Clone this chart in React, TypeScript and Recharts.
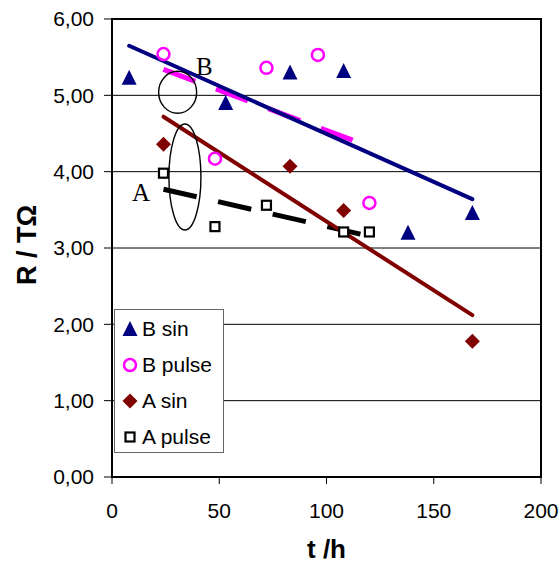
import React from 'react'
import {
  ComposedChart,
  Scatter,
  Line,
  XAxis,
  YAxis,
  CartesianGrid,
  ReferenceArea,
  ReferenceDot,
  Legend,
  Label,
} from 'recharts'

const FONT = 'Arial, "Liberation Sans", Helvetica, sans-serif'
const SERIF = '"Times New Roman", "Liberation Serif", serif'

const xTicks = [0, 50, 100, 150, 200]
const yTicks = [0, 1, 2, 3, 4, 5, 6]

// measured points (t in h, R in TΩ)
const bSinT = [8, 53, 83, 108, 138, 168]
const bSinR = [5.23, 4.9, 5.3, 5.32, 3.2, 3.46]
const bPulseT = [24, 48, 72, 96, 120]
const bPulseR = [5.54, 4.17, 5.36, 5.53, 3.59]
const aSinT = [24, 83, 108, 168]
const aSinR = [4.36, 4.07, 3.49, 1.78]
const aPulseT = [24, 48, 72, 108, 120]
const aPulseR = [3.98, 3.28, 3.56, 3.21, 3.21]

// linear trend lines (end points)
const bSinFitT = [8, 168]
const bSinFitR = [5.65, 3.64]
const bPulseFitT = [24, 120]
const bPulseFitR = [5.34, 4.33]
const aSinFitT = [24, 168]
const aSinFitR = [4.72, 2.12]
const aPulseFitT = [24, 120]
const aPulseFitR = [3.77, 3.155]

const legendNames = ['B sin', 'B pulse', 'A sin', 'A pulse']

const toPoints = (t: number[], r: number[]) => t.map((v, i) => ({ t: v, r: r[i] }))

const Triangle = ({ cx, cy }: any) => (
  <path d={`M${cx},${cy - 8} L${cx + 7.5},${cy + 7} L${cx - 7.5},${cy + 7} Z`} fill="#000080" />
)
const Circle = ({ cx, cy }: any) => (
  <circle cx={cx} cy={cy} r={6} fill="none" stroke="#FF00FF" strokeWidth={2.5} />
)
const Diamond = ({ cx, cy }: any) => (
  <path d={`M${cx},${cy - 7.5} L${cx + 7.5},${cy} L${cx},${cy + 7.5} L${cx - 7.5},${cy} Z`} fill="#800000" />
)
const Square = ({ cx, cy }: any) => (
  <rect x={cx - 4.5} y={cy - 4.5} width={9} height={9} fill="#fff" stroke="#000" strokeWidth={2.2} />
)

const markers = [Triangle, Circle, Diamond, Square]

const fmt = (v: number) => v.toFixed(2).replace('.', ',')

function LegendBox() {
  return (
    <div
      style={{
        width: 110,
        height: 144,
        boxSizing: 'border-box',
        border: '1px solid #666',
        background: '#fff',
        paddingTop: 1,
        fontFamily: FONT,
        fontSize: 21,
        color: '#000',
      }}
    >
      {legendNames.map((name, i) => {
        const M = markers[i]
        return (
          <div key={name} style={{ display: 'flex', alignItems: 'center', height: 36 }}>
            <svg width={16} height={18} style={{ marginLeft: 7, marginRight: 4 }}>
              <M cx={8} cy={9} />
            </svg>
            <span style={{ whiteSpace: 'nowrap' }}>{name}</span>
          </div>
        )
      })}
    </div>
  )
}

export default function App() {
  return (
    <div style={{ position: 'absolute', left: 0, top: 0, width: 559, height: 564, background: '#fff' }}>
      <ComposedChart width={559} height={564} margin={{ top: 19, right: 18, left: 12, bottom: 7 }}>
        <CartesianGrid vertical={false} stroke="#000" strokeWidth={1} />
        <XAxis
          dataKey="t"
          type="number"
          domain={[0, 200]}
          ticks={xTicks}
          height={80}
          tickSize={7}
          tickMargin={19}
          axisLine={{ stroke: '#000', strokeWidth: 2 }}
          tickLine={{ stroke: '#000' }}
          tick={{ fontSize: 21, fill: '#000', fontFamily: FONT }}
        >
          <Label
            content={(p: any) => {
              const vb = p.viewBox || { x: 112, y: 477, width: 429 }
              return (
                <text
                  x={vb.x + vb.width / 2}
                  y={vb.y + 81}
                  textAnchor="middle"
                  fontSize={26}
                  fontWeight="bold"
                  fontFamily={FONT}
                  fill="#000"
                >
                  t /h
                </text>
              )
            }}
          />
        </XAxis>
        <YAxis
          type="number"
          domain={[0, 6]}
          ticks={yTicks}
          width={100}
          tickSize={8}
          tickMargin={10}
          tickFormatter={fmt}
          axisLine={{ stroke: '#000', strokeWidth: 2 }}
          tickLine={{ stroke: '#000' }}
          tick={{ fontSize: 21, fill: '#000', fontFamily: FONT }}
        >
          <Label
            content={(p: any) => {
              const vb = p.viewBox || { x: 12, y: 19, height: 458 }
              const x = vb.x + 24
              const y = vb.y + vb.height / 2 - 3
              return (
                <text
                  x={x}
                  y={y}
                  transform={`rotate(-90 ${x} ${y})`}
                  textAnchor="middle"
                  fontSize={27}
                  fontWeight="bold"
                  fontFamily={FONT}
                  fill="#000"
                >
                  R / TΩ
                </text>
              )
            }}
          />
        </YAxis>
        <ReferenceArea x1={0} x2={200} y1={0} y2={6} fill="none" stroke="#000" strokeWidth={2} />

        <Scatter name="B sin" data={toPoints(bSinT, bSinR)} dataKey="r" shape={Triangle} isAnimationActive={false} />
        <Scatter name="B pulse" data={toPoints(bPulseT, bPulseR)} dataKey="r" shape={Circle} isAnimationActive={false} />
        <Scatter name="A sin" data={toPoints(aSinT, aSinR)} dataKey="r" shape={Diamond} isAnimationActive={false} />
        <Scatter name="A pulse" data={toPoints(aPulseT, aPulseR)} dataKey="r" shape={Square} isAnimationActive={false} />

        <Line
          data={toPoints(aPulseFitT, aPulseFitR)}
          dataKey="r"
          type="linear"
          stroke="#000"
          strokeWidth={5}
          strokeDasharray="34 22"
          dot={false}
          activeDot={false}
          legendType="none"
          isAnimationActive={false}
        />
        <Line
          data={toPoints(aSinFitT, aSinFitR)}
          dataKey="r"
          type="linear"
          stroke="#800000"
          strokeWidth={4}
          strokeLinecap="round"
          dot={false}
          activeDot={false}
          legendType="none"
          isAnimationActive={false}
        />
        <Line
          data={toPoints(bPulseFitT, bPulseFitR)}
          dataKey="r"
          type="linear"
          stroke="#FF00FF"
          strokeWidth={5}
          strokeDasharray="34 22"
          dot={false}
          activeDot={false}
          legendType="none"
          isAnimationActive={false}
        />
        <Line
          data={toPoints(bSinFitT, bSinFitR)}
          dataKey="r"
          type="linear"
          stroke="#000080"
          strokeWidth={4}
          strokeLinecap="round"
          dot={false}
          activeDot={false}
          legendType="none"
          isAnimationActive={false}
        />

        {/* hand-drawn annotations */}
        <ReferenceDot
          x={30.6}
          y={5.04}
          ifOverflow="visible"
          shape={(p: any) => (
            <ellipse cx={p.cx} cy={p.cy} rx={19} ry={21} fill="none" stroke="#000" strokeWidth={1.4} />
          )}
        />
        <ReferenceDot
          x={34}
          y={3.93}
          ifOverflow="visible"
          shape={(p: any) => (
            <ellipse cx={p.cx} cy={p.cy} rx={16} ry={53} fill="none" stroke="#000" strokeWidth={1.4} />
          )}
        />
        <ReferenceDot
          x={43}
          y={5.26}
          ifOverflow="visible"
          shape={(p: any) => (
            <text x={p.cx} y={p.cy} textAnchor="middle" fontSize={25} fontFamily={SERIF} fill="#000">
              B
            </text>
          )}
        />
        <ReferenceDot
          x={13.5}
          y={3.61}
          ifOverflow="visible"
          shape={(p: any) => (
            <text x={p.cx} y={p.cy} textAnchor="middle" fontSize={25} fontFamily={SERIF} fill="#000">
              A
            </text>
          )}
        />

        <Legend
          layout="vertical"
          align="center"
          verticalAlign="middle"
          content={() => <LegendBox />}
          wrapperStyle={{ left: 114, top: 309, width: 110, height: 144 }}
        />
      </ComposedChart>
    </div>
  )
}
